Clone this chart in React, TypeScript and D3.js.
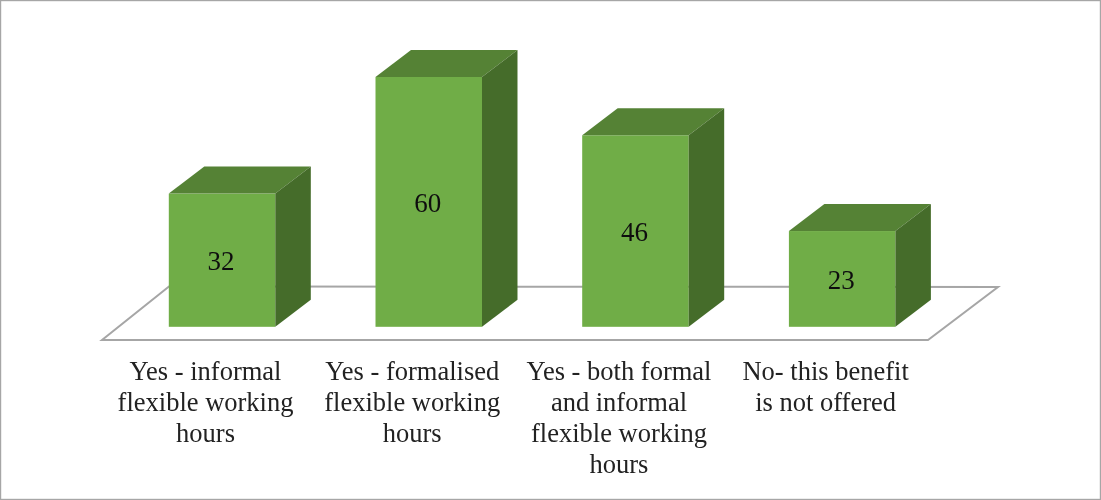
import React from "react";
import * as d3 from "d3";

const categories = [
  ["Yes - informal", "flexible working", "hours"],
  ["Yes - formalised", "flexible working", "hours"],
  ["Yes - both formal", "and informal", "flexible working", "hours"],
  ["No- this benefit", "is not offered"],
];
const values = [32, 60, 46, 23];
const W = 1101, H = 500;
const band = d3.scaleBand<number>().domain([0, 1, 2, 3]).range([168.8, 895.4]).paddingInner(0.4848).paddingOuter(0);
const y = d3.scaleLinear().domain([0, 60]).range([326.8, 77]);
const dx = 35.5, dy = 27;
const front = "#70ad47", top = "#548235", side = "#456c2a";

export default function App() {
  return (
    <svg width={W} height={H} style={{ position: "absolute", left: 0, top: 0, background: "#fff" }}>
      <defs>
        <filter id="soft" x="-2%" y="-2%" width="104%" height="104%">
          <feGaussianBlur stdDeviation="0.45" />
        </filter>
      </defs>
      <g filter="url(#soft)">
        <rect x={0.5} y={0.5} width={W - 1} height={H - 1} fill="#fff" stroke="#a6a6a6" strokeWidth={1.4} />
        <path d="M102,340 L169,286.5 L998,287 L928,340 Z" fill="#fff" stroke="#a6a6a6" strokeWidth={2} />
        {values.map((v, i) => {
          const x0 = band(i)!;
          const w = band.bandwidth();
          const yt = y(v);
          const yb = y(0);
          return (
            <g key={i}>
              <rect x={x0} y={yt} width={w} height={yb - yt} fill={front} />
              <path d={`M${x0},${yt} L${x0 + dx},${yt - dy} L${x0 + w + dx},${yt - dy} L${x0 + w},${yt} Z`} fill={top} />
              <path d={`M${x0 + w},${yt} L${x0 + w + dx},${yt - dy} L${x0 + w + dx},${yb - dy} L${x0 + w},${yb} Z`} fill={side} />
              <text x={x0 + w / 2 - 1} y={(yt + yb) / 2 + 10} textAnchor="middle" fontFamily="Liberation Serif" fontSize={27} fill="#111">{v}</text>
              {categories[i].map((line, j) => (
                <text key={j} x={x0 + w / 2 - 16.5} y={380 + j * 31} textAnchor="middle" fontFamily="Liberation Serif" fontSize={26.5} fill="#222">{line}</text>
              ))}
            </g>
          );
        })}
      </g>
    </svg>
  );
}
